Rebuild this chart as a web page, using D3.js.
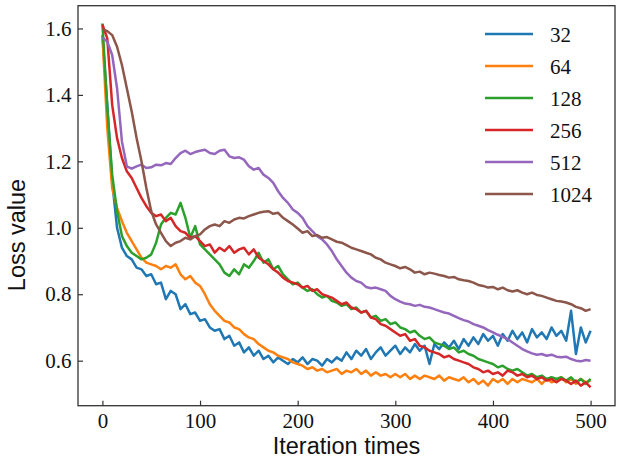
<!DOCTYPE html>
<html>
<head>
<meta charset="utf-8">
<script src="https://cdn.jsdelivr.net/npm/d3@7"></script>
<style>
  body { margin: 0; background: #fff; }
  svg text { font-family: "Liberation Serif"; font-size: 21px; fill: #111; }
  svg text.title { font-family: "Liberation Sans"; font-size: 23.5px; }
</style>
</head>
<body>
<div class="chart"></div>
<script>
// batch sizes shown in the legend
const batchSizes = ["32", "64", "128", "256", "512", "1024"];
const colors = ["#1f77b4", "#ff7f0e", "#2ca02c", "#d62728", "#9467bd", "#8c564b"];

// loss every 5 iterations (0..500)
const iterations = d3.range(0, 501, 5);

const loss32 = [1.58, 1.37, 1.14, 1.00, 0.94, 0.915, 0.905, 0.88, 0.875, 0.855,
  0.86, 0.83, 0.835, 0.785, 0.81, 0.80, 0.755, 0.77, 0.74, 0.745,
  0.72, 0.725, 0.70, 0.69, 0.695, 0.665, 0.675, 0.645, 0.655, 0.625,
  0.64, 0.615, 0.63, 0.605, 0.615, 0.595, 0.61, 0.60, 0.59, 0.605,
  0.595, 0.61, 0.59, 0.605, 0.60, 0.585, 0.605, 0.595, 0.61, 0.60,
  0.625, 0.605, 0.63, 0.615, 0.635, 0.605, 0.625, 0.64, 0.615, 0.63,
  0.645, 0.62, 0.64, 0.625, 0.65, 0.63, 0.645, 0.59, 0.65, 0.635,
  0.655, 0.64, 0.66, 0.635, 0.665, 0.645, 0.67, 0.65, 0.68, 0.66,
  0.675, 0.645, 0.68, 0.66, 0.69, 0.665, 0.685, 0.655, 0.695, 0.67,
  0.685, 0.665, 0.70, 0.675, 0.69, 0.66, 0.75, 0.62, 0.70, 0.655,
  0.69];

const loss64 = [1.58, 1.30, 1.12, 1.06, 1.02, 0.985, 0.96, 0.935, 0.91, 0.895,
  0.89, 0.885, 0.875, 0.885, 0.88, 0.89, 0.86, 0.845, 0.855, 0.835,
  0.825, 0.80, 0.77, 0.75, 0.735, 0.72, 0.715, 0.70, 0.695, 0.68,
  0.67, 0.665, 0.65, 0.64, 0.63, 0.625, 0.615, 0.61, 0.605, 0.595,
  0.59, 0.585, 0.575, 0.58, 0.57, 0.575, 0.565, 0.57, 0.575, 0.56,
  0.57, 0.565, 0.575, 0.56, 0.57, 0.555, 0.565, 0.555, 0.56, 0.55,
  0.56, 0.55, 0.56, 0.545, 0.555, 0.545, 0.555, 0.55, 0.545, 0.555,
  0.54, 0.55, 0.545, 0.54, 0.55, 0.535, 0.545, 0.53, 0.54, 0.525,
  0.545, 0.535, 0.545, 0.53, 0.545, 0.535, 0.545, 0.54, 0.535, 0.545,
  0.53, 0.545, 0.535, 0.54, 0.55, 0.535, 0.545, 0.53, 0.545, 0.535,
  0.54];

const loss128 = [1.615, 1.36, 1.16, 1.05, 0.975, 0.945, 0.925, 0.915, 0.905, 0.91,
  0.92, 0.955, 1.01, 1.03, 1.045, 1.04, 1.075, 1.03, 0.97, 1.005,
  0.95, 0.935, 0.92, 0.905, 0.89, 0.865, 0.855, 0.875, 0.86, 0.89,
  0.88, 0.90, 0.925, 0.895, 0.905, 0.875, 0.885, 0.86, 0.845, 0.83,
  0.835, 0.82, 0.81, 0.815, 0.80, 0.79, 0.795, 0.78, 0.775, 0.765,
  0.77, 0.755, 0.76, 0.745, 0.75, 0.73, 0.735, 0.72, 0.725, 0.71,
  0.715, 0.70, 0.695, 0.685, 0.69, 0.675, 0.665, 0.67, 0.655, 0.65,
  0.645, 0.635, 0.64, 0.625, 0.63, 0.62, 0.615, 0.605, 0.60, 0.595,
  0.59, 0.58, 0.585, 0.575, 0.57, 0.575, 0.565, 0.555, 0.56, 0.55,
  0.555, 0.545, 0.55, 0.545, 0.55, 0.54, 0.55, 0.535, 0.545, 0.53,
  0.545];

const loss256 = [1.612, 1.57, 1.37, 1.27, 1.21, 1.17, 1.15, 1.12, 1.09, 1.065,
  1.045, 1.035, 1.04, 1.02, 1.03, 1.005, 0.99, 0.985, 0.97, 0.975,
  0.96, 0.945, 0.95, 0.925, 0.94, 0.93, 0.945, 0.925, 0.935, 0.94,
  0.92, 0.935, 0.91, 0.90, 0.89, 0.875, 0.865, 0.85, 0.84, 0.835,
  0.83, 0.82, 0.825, 0.81, 0.815, 0.80, 0.795, 0.79, 0.78, 0.77,
  0.775, 0.76, 0.755, 0.745, 0.75, 0.73, 0.725, 0.71, 0.705, 0.695,
  0.685, 0.675, 0.68, 0.66, 0.665, 0.645, 0.64, 0.63, 0.625, 0.62,
  0.61, 0.615, 0.605, 0.60, 0.595, 0.59, 0.58, 0.575, 0.565, 0.57,
  0.56, 0.565, 0.555, 0.57, 0.565, 0.555, 0.56, 0.55, 0.555, 0.545,
  0.55, 0.54, 0.545, 0.535, 0.545, 0.54, 0.53, 0.54, 0.525, 0.535,
  0.52];

const loss512 = [1.573, 1.56, 1.52, 1.42, 1.26, 1.185, 1.178, 1.185, 1.19, 1.18,
  1.182, 1.19, 1.188, 1.195, 1.192, 1.21, 1.225, 1.232, 1.222, 1.228,
  1.232, 1.235, 1.225, 1.222, 1.232, 1.235, 1.215, 1.21, 1.212, 1.205,
  1.185, 1.175, 1.18, 1.16, 1.15, 1.135, 1.11, 1.09, 1.075, 1.055,
  1.045, 1.03, 1.005, 0.99, 0.975, 0.965, 0.95, 0.93, 0.905, 0.885,
  0.865, 0.85, 0.84, 0.835, 0.822, 0.818, 0.82, 0.815, 0.81, 0.795,
  0.785, 0.778, 0.772, 0.77, 0.765, 0.768, 0.762, 0.76, 0.755, 0.75,
  0.745, 0.742, 0.735, 0.728, 0.722, 0.718, 0.71, 0.705, 0.70, 0.692,
  0.685, 0.678, 0.672, 0.665, 0.655, 0.645, 0.635, 0.628, 0.622, 0.618,
  0.62, 0.615, 0.618, 0.612, 0.61, 0.612, 0.605, 0.60, 0.598, 0.602,
  0.60];

const loss1024 = [1.598, 1.592, 1.58, 1.545, 1.49, 1.42, 1.35, 1.27, 1.20, 1.12,
  1.05, 1.01, 0.985, 0.96, 0.945, 0.955, 0.96, 0.97, 0.965, 0.975,
  0.98, 0.995, 1.005, 1.01, 1.005, 1.02, 1.015, 1.025, 1.03, 1.028,
  1.035, 1.04, 1.045, 1.048, 1.05, 1.042, 1.045, 1.03, 1.02, 1.01,
  0.998, 0.985, 0.99, 0.975, 0.978, 0.97, 0.972, 0.965, 0.958, 0.955,
  0.948, 0.94, 0.935, 0.93, 0.925, 0.92, 0.91, 0.905, 0.895, 0.89,
  0.885, 0.878, 0.882, 0.875, 0.865, 0.868, 0.86, 0.865, 0.862, 0.858,
  0.855, 0.85, 0.852, 0.845, 0.842, 0.84, 0.835, 0.828, 0.825, 0.82,
  0.822, 0.815, 0.82, 0.812, 0.808, 0.812, 0.805, 0.80, 0.805, 0.798,
  0.795, 0.79, 0.785, 0.78, 0.778, 0.775, 0.77, 0.762, 0.758, 0.75,
  0.755];

const xTicks = [0, 100, 200, 300, 400, 500];
const yTicks = [0.6, 0.8, 1.0, 1.2, 1.4, 1.6];

const allLoss = [loss32, loss64, loss128, loss256, loss512, loss1024];

const plot = { left: 78, right: 615, top: 5.7, bottom: 405.7 };

const svg = d3.select(".chart")
  .append("svg")
  .attr("width", 624)
  .attr("height", 459);

const x = d3.scaleLinear().domain([-25, 525]).range([plot.left, plot.right]);
const y = d3.scaleLinear().domain([0.4645, 1.6685]).range([plot.bottom, plot.top]);

const line = d3.line()
  .x((d, i) => x(iterations[i]))
  .y(d => y(d));

svg.append("g")
  .selectAll("path")
  .data(allLoss)
  .join("path")
  .attr("d", d => line(d))
  .attr("fill", "none")
  .attr("stroke", (d, i) => colors[i])
  .attr("stroke-width", 2.5)
  .attr("stroke-linejoin", "round");

// axes, ticks pointing inward
const xAxis = svg.append("g")
  .attr("transform", `translate(0,${plot.bottom})`)
  .call(d3.axisBottom(x).tickValues(xTicks).tickFormat(d3.format("d"))
    .tickSizeInner(-5).tickSizeOuter(0).tickPadding(7));

const yAxis = svg.append("g")
  .attr("transform", `translate(${plot.left},0)`)
  .call(d3.axisLeft(y).tickValues(yTicks).tickFormat(d3.format(".1f"))
    .tickSizeInner(-5).tickSizeOuter(0).tickPadding(6.5));

[xAxis, yAxis].forEach(a => {
  a.select(".domain").remove();
  a.selectAll(".tick line").attr("stroke", "#333").attr("stroke-width", 1.2);
  a.selectAll(".tick text").attr("fill", null);
});

svg.append("rect")
  .attr("x", plot.left)
  .attr("y", plot.top)
  .attr("width", plot.right - plot.left)
  .attr("height", plot.bottom - plot.top)
  .attr("fill", "none")
  .attr("stroke", "#333")
  .attr("stroke-width", 1.3);

svg.append("text")
  .attr("class", "title")
  .text("Iteration times")
  .attr("x", (plot.left + plot.right) / 2)
  .attr("y", 454)
  .attr("text-anchor", "middle");

svg.append("text")
  .attr("class", "title")
  .text("Loss value")
  .attr("transform", "translate(25,235) rotate(-90)")
  .attr("text-anchor", "middle");

// legend
const legend = svg.append("g")
  .selectAll("g")
  .data(batchSizes)
  .join("g")
  .attr("transform", (d, i) => `translate(485,${34 + i * 32})`);

legend.append("line")
  .attr("x1", 0)
  .attr("x2", 48)
  .attr("stroke", (d, i) => colors[i])
  .attr("stroke-width", 2.5);

legend.append("text")
  .text(d => d)
  .attr("x", 65)
  .attr("y", 8);
</script>
</body>
</html>
